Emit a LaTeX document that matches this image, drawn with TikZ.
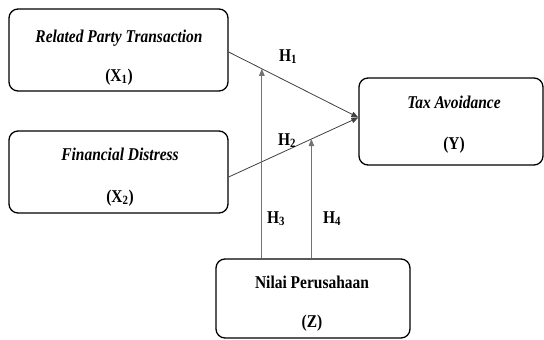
\documentclass[tikz,border=0pt]{standalone}
\usepackage{fontspec}
\setmainfont{Liberation Serif}[FakeStretch=0.86]
\usetikzlibrary{arrows.meta,calc}
\begin{document}
\begin{tikzpicture}[x=1pt,y=-1pt,
  varbox/.style={draw=black,line width=1.3pt,rounded corners=9pt,inner sep=0pt},
  txt/.style={font=\fontsize{18}{20}\selectfont\bfseries,inner sep=0pt,anchor=base},
  conn/.style={line width=0.8pt,draw=black!75,-{Triangle[length=7pt,width=5.5pt]}},
  modline/.style={line width=0.8pt,draw=black!55,-{Triangle[length=7pt,width=5.5pt]}},
  hlab/.style={font=\fontsize{18}{20}\selectfont\bfseries,inner sep=0pt,anchor=base west}]
\useasboundingbox (0,0) rectangle (544,340);
\node[varbox,minimum width=219pt,minimum height=82pt] (X1) at (118.5,50) {};
\node[varbox,minimum width=219pt,minimum height=82pt] (X2) at (118.5,172) {};
\node[varbox,minimum width=184pt,minimum height=87pt] (Y) at (451,121.5) {};
\node[varbox,minimum width=194pt,minimum height=79pt] (Z) at (313,298.5) {};
\node[txt] (t1) at (119,42) {\textit{Related Party Transaction}};
\node[txt] (v1) at (119,81) {(X\textsubscript{1})};
\node[txt] (t2) at (120,160) {\textit{Financial Distress}};
\node[txt] (v2) at (120,202) {(X\textsubscript{2})};
\node[txt] (ty) at (454,108) {\textit{Tax Avoidance}};
\node[txt] (vy) at (454,149) {(Y)};
\node[txt] (tz) at (312,288) {Nilai Perusahaan};
\node[txt] (vz) at (312,327) {(Z)};
\coordinate (s1) at ($(X1.east)+(0,2)$);
\coordinate (s2) at ($(X2.east)+(0,5)$);
\coordinate (m) at ($(Y.west)+(0,-4)$);
\coordinate (p3) at ($(s1)!0.256!(m)$);
\coordinate (p4) at ($(s2)!0.638!(m)$);
\draw[conn] (s1) -- (m);
\draw[conn] (s2) -- (m);
\draw[modline] (Z.north -| p3) -- (p3);
\draw[modline] (Z.north -| p4) -- (p4);
\node[hlab] (h1) at (279,61) {H\textsubscript{1}};
\node[hlab] (h2) at (278,145) {H\textsubscript{2}};
\node[hlab] (h3) at (267,223) {H\textsubscript{3}};
\node[hlab] (h4) at (323,223) {H\textsubscript{4}};
\end{tikzpicture}
\end{document}
